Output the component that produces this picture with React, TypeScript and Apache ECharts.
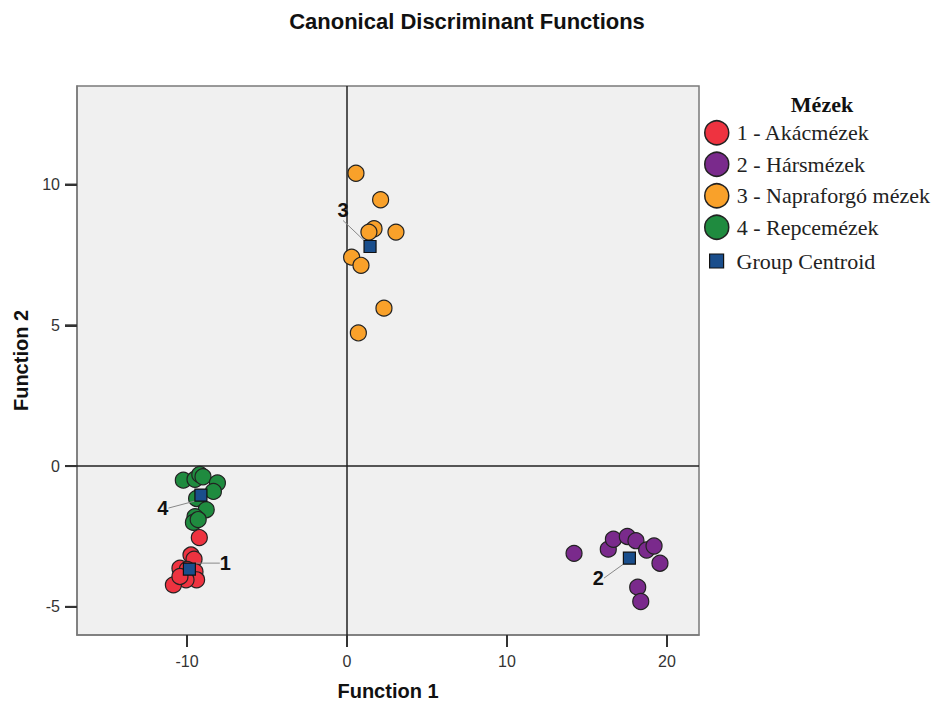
import React, { useEffect, useRef } from "react";
import * as echarts from "echarts";

const groupNames = ["1 - Akácmézek", "2 - Hársmézek", "3 - Napraforgó mézek", "4 - Repcemézek"];
const groupColors = ["#ee3340", "#7a2a8c", "#f9a12a", "#1f8b3f"];

const akacPoints: number[][] = [
  [-9.23, -2.54], [-9.75, -3.16], [-9.56, -3.31], [-10.44, -3.63], [-9.98, -3.67],
  [-9.5, -3.75], [-9.4, -4.04], [-10.06, -4.04], [-10.85, -4.22], [-10.44, -3.92],
];
const harsPoints: number[][] = [
  [14.19, -3.1], [16.33, -2.95], [16.65, -2.6], [17.52, -2.5], [18.06, -2.65],
  [18.73, -2.98], [19.19, -2.84], [19.56, -3.45], [18.17, -4.3], [18.36, -4.81],
];
const napraPoints: number[][] = [
  [0.56, 10.4], [2.1, 9.46], [1.69, 8.43], [1.37, 8.31], [3.06, 8.31],
  [0.29, 7.42], [0.875, 7.13], [2.31, 5.61], [0.71, 4.73],
];
const repcePoints: number[][] = [
  [-10.23, -0.5], [-9.5, -0.47], [-9.2, -0.3], [-9.0, -0.38], [-8.1, -0.6],
  [-8.35, -0.9], [-9.4, -1.15], [-8.8, -1.55], [-9.5, -1.8], [-9.6, -2.0], [-9.3, -1.9],
];
const groupPoints = [akacPoints, harsPoints, napraPoints, repcePoints];

const centroidLabels = ["1", "2", "3", "4"];
const centroids: number[][] = [
  [-9.85, -3.66], [17.65, -3.27], [1.44, 7.8], [-9.13, -1.03],
];

const xTicks = [-10, 0, 10, 20];
const yTicks = [-5, 0, 5, 10];
const xRange = [-16.875, 22];
const yRange = [-6, 13.5];

const labelOffsets = [
  [36, -6], [-31, 20], [-27, -36], [-38, 13],
];

const SANS = "'Liberation Sans', Arial, sans-serif";
const SERIF = "'Liberation Serif', 'Times New Roman', serif";

const GRID = { left: 77, right: 699, top: 86, bottom: 635 };
const TICK_LEN = 12;

export default function App() {
  const ref = useRef<HTMLDivElement>(null);
  useEffect(() => {
    if (!ref.current) return;
    const chart = echarts.init(ref.current, undefined, { renderer: "svg" });
    const scatterSeries = groupPoints.map((pts, i) => ({
      name: groupNames[i],
      type: "scatter",
      data: pts,
      symbol: "circle",
      symbolSize: 16,
      itemStyle: { color: groupColors[i], borderColor: "#222", borderWidth: 1.2, opacity: 1 },
      emphasis: { disabled: true },
      z: 3,
    }));
    const axisCommon = {
      type: "value",
      nameLocation: "middle",
      nameTextStyle: { fontFamily: SANS, fontSize: 20, fontWeight: "bold", color: "#111" },
      axisLine: { show: true, onZero: false, lineStyle: { color: "#7a7a7a", width: 1.5 } },
      splitLine: { show: false },
    };
    const option: any = {
      animation: false,
      title: [
        {
          text: "Canonical Discriminant Functions",
          left: 462,
          top: 5,
          textAlign: "center",
          textStyle: { fontFamily: SANS, fontSize: 22, fontWeight: "bold", color: "#111" },
        },
        {
          text: "Mézek",
          left: 817,
          top: 88,
          textAlign: "center",
          textStyle: { fontFamily: SERIF, fontSize: 22, fontWeight: "bold", color: "#111" },
        },
      ],
      legend: [
        {
          data: groupNames.map((n) => ({ name: n, icon: "circle" })),
          orient: "vertical",
          left: 704,
          top: 120,
          itemWidth: 24,
          itemHeight: 24,
          itemGap: 6,
          padding: 0,
          textStyle: { fontFamily: SERIF, fontSize: 22, lineHeight: 24, color: "#222", padding: [0, 0, 0, 3] },
          itemStyle: { borderColor: "#222", borderWidth: 1.5 },
          selectedMode: false,
        },
        {
          data: [{ name: "Group Centroid", icon: "rect" }],
          orient: "vertical",
          left: 709,
          top: 249,
          itemWidth: 14,
          itemHeight: 14,
          padding: 0,
          textStyle: { fontFamily: SERIF, fontSize: 22, lineHeight: 24, color: "#222", padding: [0, 0, 0, 8] },
          itemStyle: { borderColor: "#111", borderWidth: 1.2 },
          selectedMode: false,
        },
      ],
      grid: {
        left: GRID.left,
        right: 931 - GRID.right,
        top: GRID.top,
        bottom: 702 - GRID.bottom,
        outerBoundsMode: "none",
        show: true,
        backgroundColor: "#f0f0f0",
        borderColor: "#7a7a7a",
        borderWidth: 1.5,
      },
      xAxis: {
        ...axisCommon,
        min: xRange[0],
        max: xRange[1],
        name: "Function 1",
        nameGap: 46,
        axisTick: {
          show: true,
          customValues: xTicks,
          length: TICK_LEN,
          lineStyle: { color: "#333", width: 2 },
        },
        axisLabel: {
          customValues: xTicks,
          fontFamily: SANS,
          fontSize: 16,
          color: "#333",
          margin: 18,
        },
      },
      yAxis: {
        ...axisCommon,
        min: yRange[0],
        max: yRange[1],
        name: "Function 2",
        nameGap: 43,
        axisTick: {
          show: true,
          customValues: yTicks,
          length: TICK_LEN,
          lineStyle: { color: "#333", width: 2 },
        },
        axisLabel: {
          customValues: yTicks,
          fontFamily: SANS,
          fontSize: 16,
          color: "#333",
          margin: 17,
        },
      },
      series: [
        ...scatterSeries,
        {
          name: "Group Centroid",
          type: "scatter",
          data: centroids.map((c, i) => ({ value: c, name: centroidLabels[i] })),
          symbol: "rect",
          symbolSize: 12,
          itemStyle: { color: "#1a4e8c", borderColor: "#111", borderWidth: 1.2, opacity: 1 },
          emphasis: { disabled: true },
          z: 5,
          label: {
            show: true,
            position: "inside",
            formatter: (p: any) => p.name,
            fontFamily: SANS,
            fontSize: 20,
            fontWeight: "bold",
            color: "#111",
          },
          labelLayout: (p: any) => ({ dx: labelOffsets[p.dataIndex][0], dy: labelOffsets[p.dataIndex][1] }),
          labelLine: { show: true, lineStyle: { color: "#888", width: 1 } },
          markLine: {
            silent: true,
            symbol: "none",
            label: { show: false },
            lineStyle: { color: "#222", width: 1.5, type: "solid" },
            data: [{ xAxis: 0 }, { yAxis: 0 }],
            z: 1,
          },
        },
      ],
    };
    chart.setOption(option);

    const tickGraphics: any[] = [];
    xTicks.forEach((v) => {
      const px = chart.convertToPixel({ xAxisIndex: 0 }, v) as number;
      tickGraphics.push({
        type: "line",
        z: 100,
        shape: { x1: px, y1: GRID.bottom, x2: px, y2: GRID.bottom + TICK_LEN },
        style: { stroke: "#333", lineWidth: 2 },
      });
    });
    yTicks.forEach((v) => {
      const py = chart.convertToPixel({ yAxisIndex: 0 }, v) as number;
      tickGraphics.push({
        type: "line",
        z: 100,
        shape: { x1: GRID.left - TICK_LEN, y1: py, x2: GRID.left, y2: py },
        style: { stroke: "#333", lineWidth: 2 },
      });
    });
    chart.setOption({ graphic: tickGraphics });
    return () => chart.dispose();
  }, []);
  return (
    <div
      ref={ref}
      style={{ position: "absolute", left: 0, top: 0, width: 931, height: 702 }}
    />
  );
}
